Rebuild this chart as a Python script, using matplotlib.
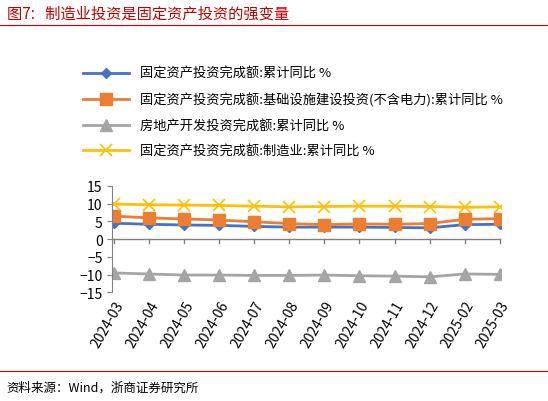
import matplotlib
matplotlib.use("Agg")
import matplotlib.pyplot as plt
plt.rcParams['font.family'] = ['Noto Sans CJK SC', 'DejaVu Sans']

dates = ["2024-03","2024-04","2024-05","2024-06","2024-07","2024-08","2024-09","2024-10","2024-11","2024-12","2025-02","2025-03"]
fai = [4.5,4.2,4.0,3.9,3.6,3.4,3.4,3.4,3.3,3.2,4.1,4.2]
infra = [6.5,6.0,5.7,5.4,4.9,4.4,4.1,4.3,4.2,4.4,5.6,5.8]
estate = [-9.5,-9.8,-10.1,-10.1,-10.2,-10.2,-10.1,-10.3,-10.4,-10.6,-9.8,-9.9]
manu = [9.9,9.7,9.6,9.5,9.3,9.1,9.2,9.3,9.3,9.2,9.0,9.1]
labels = ["固定资产投资完成额:累计同比 %",
          "固定资产投资完成额:基础设施建设投资(不含电力):累计同比 %",
          "房地产开发投资完成额:累计同比 %",
          "固定资产投资完成额:制造业:累计同比 %"]

fig = plt.figure(figsize=(5.48,4.02), dpi=100)
fig.text(0.012,0.965,"图7:   制造业投资是固定资产投资的强变量", color="#C00000", fontsize=11, va="center")
fig.add_artist(plt.Line2D([0.0,1.0],[0.935,0.935], color="#C00000", lw=0.8))
fig.text(0.012,0.035,"资料来源：Wind，浙商证券研究所", fontsize=9, va="center")
fig.add_artist(plt.Line2D([0.0,1.0],[0.075,0.075], color="#C00000", lw=0.8))

ax = fig.add_axes([0.205,0.27,0.71,0.265])
x = range(len(dates))
h1,=ax.plot(x,fai,color="#4472C4",marker="D",ms=5,lw=2)
h2,=ax.plot(x,infra,color="#ED7D31",marker="s",ms=9,lw=2)
h3,=ax.plot(x,estate,color="#A5A5A5",marker="^",ms=8,lw=2)
h4,=ax.plot(x,manu,color="#FFC000",marker="x",ms=8,mew=1.2,lw=2)
ax.set_ylim(-15,15); ax.set_yticks(range(-15,16,5))
ax.set_xlim(-0.05,len(dates)-1+0.05)
ax.set_xticks(list(x)); ax.set_xticklabels(dates, rotation=60, ha="right", rotation_mode="anchor", fontsize=10)
for s in ["top","right","bottom"]: ax.spines[s].set_visible(False)
ax.spines["left"].set_color("#808080")
ax.axhline(0,color="#808080",lw=1)
ax.tick_params(axis="x",length=0,pad=4)
ax.tick_params(axis="y",labelsize=10,color="#808080")
for i in x: ax.plot([i,i],[0,-1.2],color="#808080",lw=1,clip_on=False)
fig.legend([h1,h2,h3,h4],labels,loc="upper left",bbox_to_anchor=(0.13,0.86),frameon=False,fontsize=9.5,labelspacing=0.95,handlelength=3.5)
fig.savefig("out.png")
